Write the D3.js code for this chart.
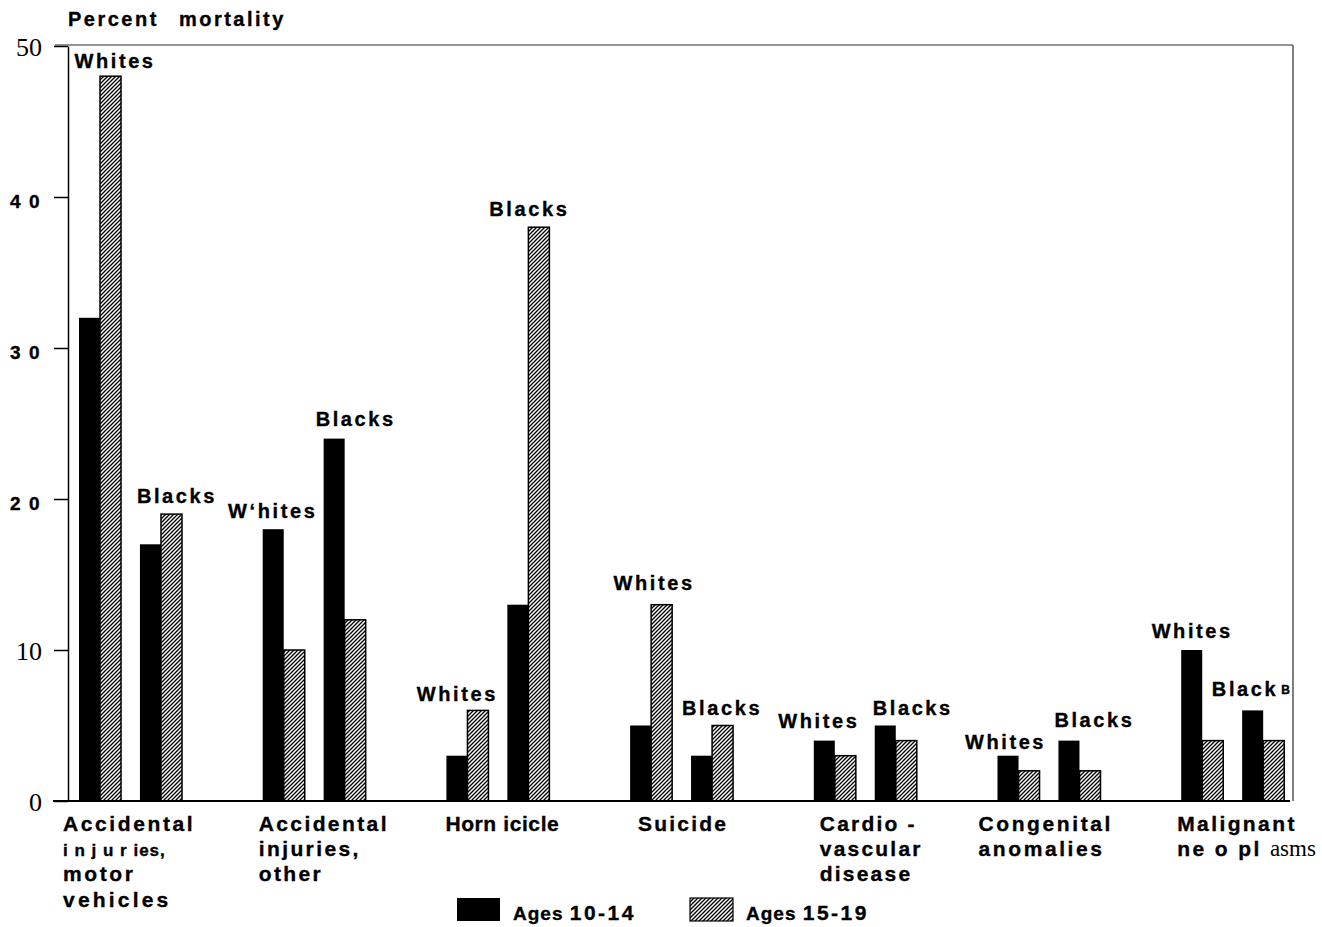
<!DOCTYPE html>
<html>
<head>
<meta charset="utf-8">
<script src="https://cdn.jsdelivr.net/npm/d3@7"></script>
<style>
  html, body { margin: 0; padding: 0; background: #fff; }
  svg { display: block; }
  .sans { font-family: "Liberation Sans", Arial, sans-serif; font-weight: bold; fill: #000; stroke: #000; stroke-width: 0.35px; }
  .serif { font-family: "Liberation Serif", "Times New Roman", serif; font-weight: normal; fill: #000; stroke: none; }
</style>
</head>
<body>
<svg id="chart" width="1322" height="927"></svg>
<script>
// ---------- DATA ----------
const categories = ["Accidental injuries, motor vehicles", "Accidental injuries, other", "Homicide", "Suicide", "Cardiovascular disease", "Congenital anomalies", "Malignant neoplasms"];
const categoryLines = [
  ["Accidental", "i n j u r ies,", "motor", "vehicles"],
  ["Accidental", "injuries,", "other"],
  ["Horn icicle"],
  ["Suicide"],
  ["Cardio -", "vascular", "disease"],
  ["Congenital", "anomalies"],
  ["Malignant", "ne o pl |asms"]
];
const races = ["Whites", "Blacks"];
const ages = ["Ages 10-14", "Ages 15-19"];
const whitesAges1014 = [32, 18, 3, 5, 4, 3, 10];
const whitesAges1519 = [48, 10, 6, 13, 3, 2, 4];
const blacksAges1014 = [17, 24, 13, 3, 5, 4, 6];
const blacksAges1519 = [19, 12, 38, 5, 4, 2, 4];
const whitesLabels = ["Whites", "W\u2018hites", "Whites", "Whites", "Whites", "Whites", "Whites"];
const blacksLabels = ["Blacks", "Blacks", "Blacks", "Blacks", "Blacks", "Blacks", "Black|B"];
const yTickValues = [0, 10, 20, 30, 40, 50];
const yTickLabels = ["0", "10", "2 0", "3 0", "4 0", "50"];
const yTickSerif = [true, true, false, false, false, true];
const yTitle = "Percent mortality";

// ---------- LAYOUT (not data) ----------
const labelNudge = { Whites: [15, -11, -10, 3, -16, -13, -10], Blacks: [16, 11, 1, 10, 17, 15, -11] };
const labelLift = { Whites: [3, 0, 2, -4, -2, 4, -1], Blacks: [0, -2, 0, 0, 0, -3, -3] };
const catNudge = [-16, -4, -1, 8, 6, -19, -4];
const catSpacing = [2.6, 2.4, 0.6, 2.2, 2.2, 2.6, 2.4];

const svg = d3.select("#chart");
const plot = { left: 68, right: 1293, top: 46, bottom: 801 };

const y = d3.scaleLinear().domain([0, 50]).range([plot.bottom, plot.top]);
const groupStep = 183.7;
const x0 = d3.scaleBand().domain(categories).range([79, 79 + groupStep * categories.length]).padding(0);
const xRace = d3.scaleBand().domain(races).range([0, 103]).paddingInner(0.31).paddingOuter(0);
const xAge = d3.scaleBand().domain(ages).range([0, xRace.bandwidth()]).padding(0);

// hatch pattern
const defs = svg.append("defs");
const pat = defs.append("pattern").attr("id", "hatch").attr("patternUnits", "userSpaceOnUse")
  .attr("width", 4).attr("height", 4);
pat.append("rect").attr("width", 4).attr("height", 4).attr("fill", "#fff");
pat.append("path").attr("d", "M-1,1 l2,-2 M0,4 l4,-4 M3,5 l2,-2")
  .attr("stroke", "#000").attr("stroke-width", 1.35);

// frame (top & right grey borders)
svg.append("line").attr("x1", 55).attr("x2", plot.right).attr("y1", plot.top - 1).attr("y2", plot.top - 1)
  .attr("stroke", "#707070").attr("stroke-width", 1.5);
svg.append("line").attr("x1", plot.right).attr("x2", plot.right).attr("y1", plot.top - 1).attr("y2", plot.bottom)
  .attr("stroke", "#555").attr("stroke-width", 1.5);

// y axis
const yAxis = d3.axisLeft(y).tickValues(yTickValues).tickSize(14).tickSizeOuter(0).tickPadding(13)
  .tickFormat((d, i) => yTickLabels[i]);
const gy = svg.append("g").attr("transform", `translate(${plot.left},0)`).call(yAxis);
gy.select(".domain").attr("stroke", "#000").attr("stroke-width", 1.5);
gy.selectAll(".tick line").attr("stroke", "#000").attr("stroke-width", 1.5);
gy.selectAll(".tick text")
  .attr("class", (d, i) => yTickSerif[i] ? "serif" : "sans")
  .attr("font-size", (d, i) => yTickSerif[i] ? 26 : 19)
  .attr("letter-spacing", (d, i) => yTickSerif[i] ? 0 : 1.5)
  .attr("dy", null).attr("y", (d, i) => yTickSerif[i] ? 9 : 10)
  .attr("x", (d, i) => yTickSerif[i] ? -26 : -27);

// y title
svg.append("text").attr("class", "sans").attr("x", 68).attr("y", 26)
  .attr("font-size", 20).attr("letter-spacing", 2.5).style("word-spacing", "12px").text(yTitle);

// bars
const series = [
  { race: "Whites", age: ages[0], values: whitesAges1014 },
  { race: "Whites", age: ages[1], values: whitesAges1519 },
  { race: "Blacks", age: ages[0], values: blacksAges1014 },
  { race: "Blacks", age: ages[1], values: blacksAges1519 }
];
const barData = [];
series.forEach(s => s.values.forEach((v, i) => barData.push({ cat: categories[i], race: s.race, age: s.age, v })));

svg.append("g").selectAll("rect").data(barData).join("rect")
  .attr("x", d => x0(d.cat) + xRace(d.race) + xAge(d.age))
  .attr("y", d => y(d.v))
  .attr("width", xAge.bandwidth())
  .attr("height", d => y(0) - y(d.v))
  .attr("fill", d => d.age === ages[0] ? "#000" : "url(#hatch)")
  .attr("stroke", d => d.age === ages[0] ? "none" : "#000")
  .attr("stroke-width", 1.5);

// baseline
svg.append("line").attr("x1", 53).attr("x2", 1290).attr("y1", y(0)).attr("y2", y(0))
  .attr("stroke", "#000").attr("stroke-width", 2);

// race labels
const labelData = [];
categories.forEach((c, i) => {
  labelData.push({ cat: c, race: "Whites", text: whitesLabels[i], top: Math.max(whitesAges1014[i], whitesAges1519[i]), dx: labelNudge.Whites[i], lift: labelLift.Whites[i] });
  labelData.push({ cat: c, race: "Blacks", text: blacksLabels[i], top: Math.max(blacksAges1014[i], blacksAges1519[i]), dx: labelNudge.Blacks[i], lift: labelLift.Blacks[i] });
});
const lbl = svg.append("g").selectAll("text").data(labelData).join("text")
  .attr("class", "sans")
  .attr("x", d => x0(d.cat) + xRace(d.race) + xRace.bandwidth() / 2 + d.dx)
  .attr("y", d => y(d.top) - 11 + d.lift)
  .attr("text-anchor", "middle")
  .attr("font-size", 20).attr("letter-spacing", 2.6);
lbl.each(function (d) {
  const parts = d.text.split("|");
  const t = d3.select(this);
  t.append("tspan").text(parts[0]);
  if (parts[1]) t.append("tspan").attr("font-size", 12).attr("dx", 3).attr("dy", -2).text(parts[1]);
});

// category labels
const lineYs = [831, 856, 881, 907];
categories.forEach((c, i) => {
  const g = svg.append("g");
  categoryLines[i].forEach((ln, j) => {
    const parts = ln.split("|");
    const small = ln.startsWith("i n j");
    const t = g.append("text").attr("class", "sans")
      .attr("x", x0(c) + catNudge[i]).attr("y", lineYs[j])
      .attr("font-size", small ? 17 : 21)
      .attr("letter-spacing", small ? 1 : (ln === "vehicles" ? 3.2 : catSpacing[i]));
    t.append("tspan").text(parts[0]);
    if (parts[1]) t.append("tspan").attr("class", "serif").attr("font-size", 23).attr("letter-spacing", 0).text(parts[1]);
  });
});

// legend
const legend = svg.append("g");
const legX = [457, 690];
ages.forEach((a, i) => {
  legend.append("rect").attr("x", legX[i]).attr("y", 898).attr("width", 43).attr("height", 23)
    .attr("fill", i === 0 ? "#000" : "url(#hatch)").attr("stroke", i === 0 ? "none" : "#000").attr("stroke-width", 1.2);
  const [w, n] = a.split(" ");
  const t = legend.append("text").attr("class", "sans").attr("x", legX[i] + 56).attr("y", 920);
  t.append("tspan").attr("font-size", 19).attr("letter-spacing", 1).text(w + " ");
  t.append("tspan").attr("font-size", 21).attr("letter-spacing", 2.5).text(n);
});
</script>
</body>
</html>
